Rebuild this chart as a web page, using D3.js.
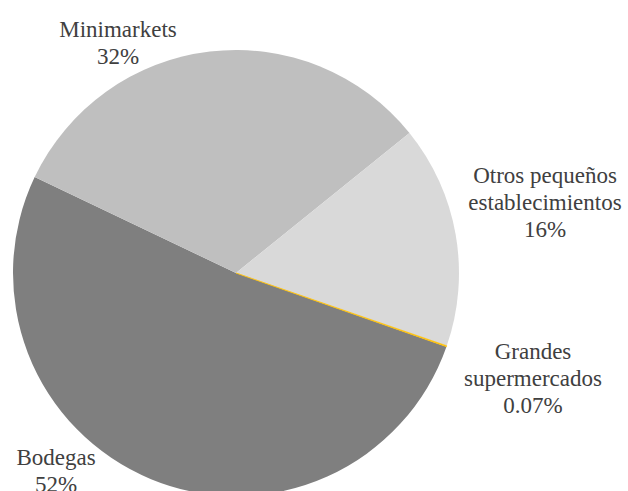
<!DOCTYPE html>
<html>
<head>
<meta charset="utf-8">
<script src="https://cdn.jsdelivr.net/npm/d3@7"></script>
</head>
<body style="margin:0">
<svg id="chart" width="628" height="491"></svg>
<script>
const width = 628;
const height = 491;

// data
const categories = ["Bodegas", "Minimarkets", "Otros pequeños establecimientos", "Grandes supermercados"];
const shares = [51.7, 32.1, 16.1, 0.07];
const shareLabels = ["52%", "32%", "16%", "0.07%"];
const labelLines = [["Bodegas"], ["Minimarkets"], ["Otros pequeños", "establecimientos"], ["Grandes", "supermercados"]];
const sliceColors = ["#7f7f7f", "#bfbfbf", "#d9d9d9", "#ffc000"];

// layout
const cx = 236, cy = 273, radius = 223;
const startDeg = 109.3;
const labelAnchors = [[56, 465], [118, 37], [545, 183], [533, 359]];
const lineGap = 27;

const svg = d3.select("#chart");

const pieData = d3.pie()
    .sort(null)
    .value(d => d)
    .startAngle(startDeg * Math.PI / 180)
    .endAngle((startDeg + 360) * Math.PI / 180)(shares);

const arc = d3.arc().innerRadius(0).outerRadius(radius);

const color = d3.scaleOrdinal().domain(categories).range(sliceColors);

svg.append("g")
    .attr("transform", `translate(${cx},${cy})`)
    .selectAll("path")
    .data(pieData)
    .join("path")
    .attr("d", arc)
    .attr("fill", (d, i) => color(categories[i]))
    .attr("stroke", (d, i) => i === 3 ? color(categories[i]) : "none")
    .attr("stroke-width", 0.6);

//------------ Labels: one text per line ------------------------------------------//
const lineData = [];
categories.forEach((c, i) => {
    labelLines[i].concat([shareLabels[i]]).forEach((line, j) => {
        lineData.push({text: line, x: labelAnchors[i][0], y: labelAnchors[i][1] + j * lineGap});
    });
});

svg.append("g")
    .selectAll("text")
    .data(lineData)
    .join("text")
    .attr("font-family", "Liberation Serif")
    .style("font-family", "'Liberation Serif', 'Times New Roman', serif", "important")
    .style("font-size", "23px", "important")
    .attr("fill", "#404040")
    .attr("text-anchor", "middle")
    .attr("x", d => d.x)
    .attr("y", d => d.y)
    .text(d => d.text);
</script>
</body>
</html>
